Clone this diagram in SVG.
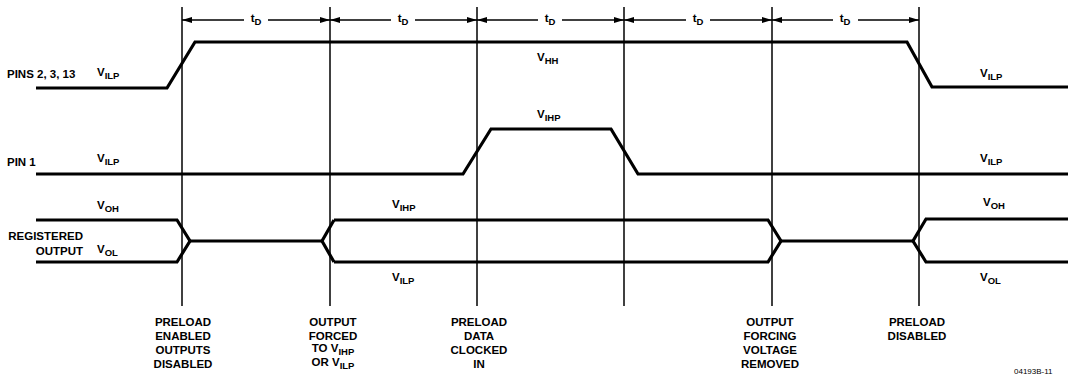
<svg xmlns="http://www.w3.org/2000/svg" width="1069" height="376" viewBox="0 0 1069 376">
<defs>
<marker id="arr" markerUnits="userSpaceOnUse" markerWidth="10" markerHeight="6" refX="10" refY="3" orient="auto">
<path d="M0,0 L10,3 L0,6 z" fill="#000"/>
</marker>
<style>
text{font-family:"Liberation Sans",Arial,sans-serif;font-weight:bold;font-size:11.5px;fill:#000}
.sub{font-size:9.5px}
.sig{fill:none;stroke:#000;stroke-width:3.2;stroke-linejoin:miter}
.grid{stroke:#000;stroke-width:1.5}
.dim{stroke:#000;stroke-width:1.3;marker-end:url(#arr)}
.c{text-anchor:middle}
</style>
</defs>
<rect width="1069" height="376" fill="#fff"/>
<g id="gridlines">
<line class="grid" x1="182" y1="7" x2="182" y2="306"/>
<line class="grid" x1="330" y1="7" x2="330" y2="306"/>
<line class="grid" x1="477" y1="7" x2="477" y2="306"/>
<line class="grid" x1="624" y1="7" x2="624" y2="306"/>
<line class="grid" x1="772" y1="7" x2="772" y2="306"/>
<line class="grid" x1="919" y1="7" x2="919" y2="306"/>
</g>
<g id="connectors">
<line class="dim" x1="244" y1="20" x2="182" y2="20"/>
<line class="dim" x1="268" y1="20" x2="330" y2="20"/>
<line class="dim" x1="391" y1="20" x2="330" y2="20"/>
<line class="dim" x1="415" y1="20" x2="477" y2="20"/>
<line class="dim" x1="538" y1="20" x2="477" y2="20"/>
<line class="dim" x1="562" y1="20" x2="624" y2="20"/>
<line class="dim" x1="686" y1="20" x2="624" y2="20"/>
<line class="dim" x1="710" y1="20" x2="772" y2="20"/>
<line class="dim" x1="833" y1="20" x2="772" y2="20"/>
<line class="dim" x1="858" y1="20" x2="919" y2="20"/>
</g>
<g id="td-labels">
<text class="c" x="256" y="22">t<tspan class="sub" dy="2.5">D</tspan></text>
<text class="c" x="403" y="22">t<tspan class="sub" dy="2.5">D</tspan></text>
<text class="c" x="550" y="22">t<tspan class="sub" dy="2.5">D</tspan></text>
<text class="c" x="698" y="22">t<tspan class="sub" dy="2.5">D</tspan></text>
<text class="c" x="845" y="22">t<tspan class="sub" dy="2.5">D</tspan></text>
</g>
<g id="pins-2-3-13">
<polyline class="sig" points="36,88 167,88 195,42 907,42 932,87 1068,87"/>
<text x="7" y="78">PINS 2, 3, 13</text>
<text x="97" y="76">V<tspan class="sub" dy="2.5">ILP</tspan></text>
<text x="537" y="61">V<tspan class="sub" dy="2.5">HH</tspan></text>
<text x="980" y="77">V<tspan class="sub" dy="2.5">ILP</tspan></text>
</g>
<g id="pin-1">
<polyline class="sig" points="36,174 463,174 491,129 611,129 638,174 1068,174"/>
<text x="7" y="166">PIN 1</text>
<text x="97" y="162">V<tspan class="sub" dy="2.5">ILP</tspan></text>
<text x="537" y="118">V<tspan class="sub" dy="2.5">IHP</tspan></text>
<text x="980" y="162">V<tspan class="sub" dy="2.5">ILP</tspan></text>
</g>
<g id="registered-output">
<polyline class="sig" points="36,220 177,220 190,241 177,262 36,262"/>
<line class="sig" x1="190" y1="241" x2="322" y2="241"/>
<polyline class="sig" points="334,220 322,241 334,262"/>
<polyline class="sig" points="334,220 768,220 781,241 768,262 334,262"/>
<line class="sig" x1="781" y1="241" x2="913" y2="241"/>
<polyline class="sig" points="1068,219 926,219 913,241 926,262 1068,262"/>
<text x="83" y="240" text-anchor="end">REGISTERED</text>
<text x="83" y="255" text-anchor="end">OUTPUT</text>
<text x="97" y="209">V<tspan class="sub" dy="2.5">OH</tspan></text>
<text x="97" y="253">V<tspan class="sub" dy="2.5">OL</tspan></text>
<text x="392" y="208">V<tspan class="sub" dy="2.5">IHP</tspan></text>
<text x="392" y="281">V<tspan class="sub" dy="2.5">ILP</tspan></text>
<text x="983" y="206">V<tspan class="sub" dy="2.5">OH</tspan></text>
<text x="980" y="281">V<tspan class="sub" dy="2.5">OL</tspan></text>
</g>
<g id="note-preload-enabled">
<text class="c" x="183" y="326">PRELOAD</text>
<text class="c" x="183" y="340">ENABLED</text>
<text class="c" x="183" y="354">OUTPUTS</text>
<text class="c" x="183" y="368">DISABLED</text>
</g>
<g id="note-output-forced">
<text class="c" x="333" y="326">OUTPUT</text>
<text class="c" x="333" y="340">FORCED</text>
<text class="c" x="333" y="352">TO V<tspan class="sub" dy="2.5">IHP</tspan></text>
<text class="c" x="333" y="366">OR V<tspan class="sub" dy="2.5">ILP</tspan></text>
</g>
<g id="note-preload-data">
<text class="c" x="479" y="326">PRELOAD</text>
<text class="c" x="479" y="340">DATA</text>
<text class="c" x="479" y="354">CLOCKED</text>
<text class="c" x="479" y="368">IN</text>
</g>
<g id="note-output-forcing">
<text class="c" x="770" y="326">OUTPUT</text>
<text class="c" x="770" y="340">FORCING</text>
<text class="c" x="770" y="354">VOLTAGE</text>
<text class="c" x="770" y="368">REMOVED</text>
</g>
<g id="note-preload-disabled">
<text class="c" x="917" y="326">PRELOAD</text>
<text class="c" x="917" y="340">DISABLED</text>
</g>
<text x="1014" y="374" style="font-size:8px;font-weight:normal">04193B-11</text>
</svg>
